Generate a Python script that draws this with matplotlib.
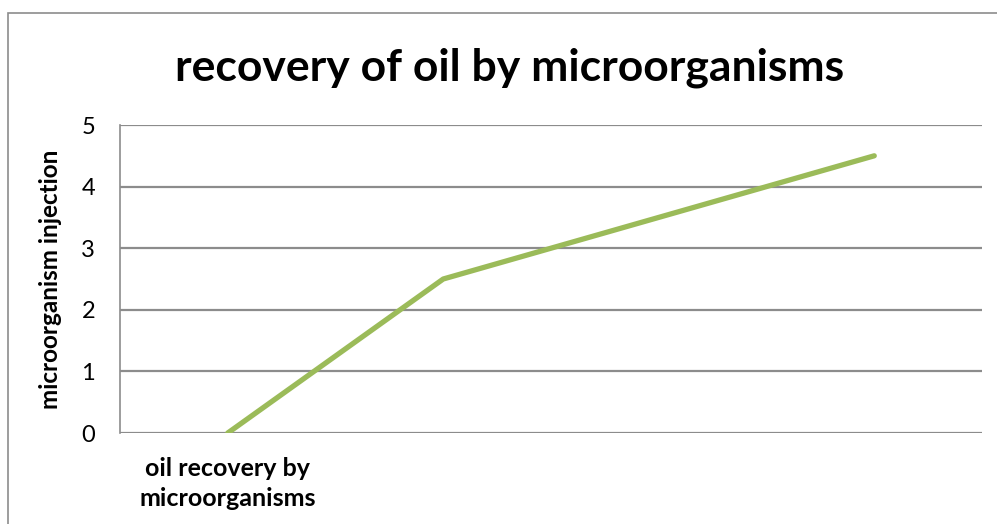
import matplotlib.pyplot as plt
from matplotlib.patches import Rectangle

categories = ["oil recovery by\nmicroorganisms", "", "", ""]
values = [0, 2.5, 3.5, 4.5]
yticks = [0, 1, 2, 3, 4, 5]

plt.rcParams["font.family"] = ["Lato", "DejaVu Sans"]

fig = plt.figure(figsize=(9.97, 5.24), dpi=100)
W, H = 997, 524
ax = fig.add_axes([120 / W, 1 - 433 / H, (982 - 120) / W, (433 - 125) / H])

# outer chart frame (cut off at right and bottom)
fig.patches.append(Rectangle((8 / W, -0.1), 1.2, 1 - 13 / H + 0.1,
                             transform=fig.transFigure, fill=False,
                             edgecolor="#8c8c8c", linewidth=1.2))

x = list(range(len(categories)))
ax.plot(x, values, color="#9BBB59", linewidth=3.8, solid_capstyle="round")

ax.set_xlim(-0.5, len(categories) - 0.5)
ax.set_ylim(0, 5)
ax.set_yticks(yticks)
ax.set_yticklabels([str(v) for v in yticks], fontsize=17)
ax.set_xticks(x)
ax.set_xticklabels(categories, fontsize=18, fontweight="bold", linespacing=1.4)
ax.tick_params(axis="both", length=0)
ax.tick_params(axis="y", pad=18)
ax.tick_params(axis="x", pad=17)

ax.grid(axis="y", color="#8c8c8c", linewidth=1.6)
ax.set_axisbelow(True)
for s in ["top", "right", "bottom"]:
    ax.spines[s].set_visible(False)
ax.spines["left"].set_color("#8c8c8c")
ax.spines["left"].set_linewidth(1.2)

ax.set_ylabel("microorganism injection", fontsize=17.5, fontweight="bold", labelpad=14)
fig.text(510 / W, 1 - 68 / H, "recovery of oil by microorganisms",
         ha="center", va="center", fontsize=32, fontweight="bold")

fig.savefig("out.png", dpi=100)
